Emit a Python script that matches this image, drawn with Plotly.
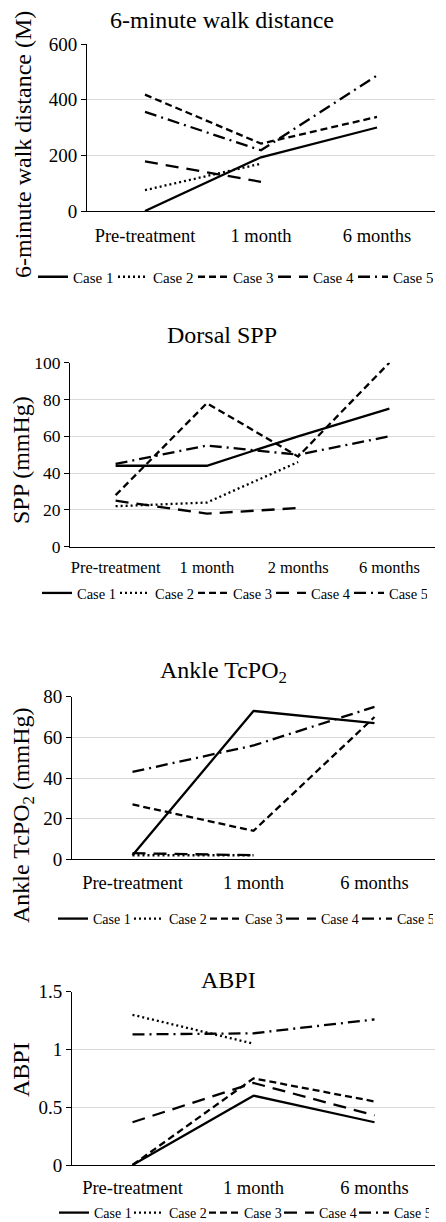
import plotly.graph_objects as go

# ---------------- data ----------------
cats_3 = ["Pre-treatment", "1 month", "6 months"]
cats_4 = ["Pre-treatment", "1 month", "2 months", "6 months"]
case_names = ["Case 1", "Case 2", "Case 3", "Case 4", "Case 5"]

walk_case1 = [0, 193, 300]
walk_case2 = [75, 170, None]
walk_case3 = [418, 242, 338]
walk_case4 = [178, 105, None]
walk_case5 = [356, 218, 487]

spp_case1 = [44, 44, 60, 75]
spp_case2 = [22, 24, 46, None]
spp_case3 = [28, 78, 49, 100]
spp_case4 = [25, 18, 21, None]
spp_case5 = [45, 55, 50, 60]

tcpo2_case1 = [2, 73, 67]
tcpo2_case2 = [2, 2, None]
tcpo2_case3 = [27, 14, 70]
tcpo2_case4 = [3, 2, None]
tcpo2_case5 = [43, 56, 75]

abpi_case1 = [0, 0.60, 0.37]
abpi_case2 = [1.30, 1.05, None]
abpi_case3 = [0, 0.75, 0.55]
abpi_case4 = [0.37, 0.71, 0.43]
abpi_case5 = [1.13, 1.14, 1.26]

walk_ticks = [0, 200, 400, 600]
spp_ticks = [0, 20, 40, 60, 80, 100]
tcpo2_ticks = [0, 20, 40, 60, 80]
abpi_ticks = [0, 0.5, 1, 1.5]
abpi_ticktext = ["0", "0.5", "1", "1.5"]

# ---------------- styling ----------------
OFF = 8                      # page body margin
W, H = 446 - OFF, 1222 - OFF
FONT = "Liberation Serif"
dashes = ["solid", "2px,3px", "7px,4px", "13px,8px", "12px,5px,2px,5px"]


def px(x):
    return (x - OFF) / W


def py(y):
    return 1 - (y - OFF) / H


panels = [
    dict(cats=cats_3, series=[walk_case1, walk_case2, walk_case3, walk_case4, walk_case5],
         title="6-minute walk distance", ytitle="6-minute walk distance (M)",
         xdom=(87, 435), ydom=(44, 211), yrange=[0, 600], ticks=walk_ticks, ticktext=None,
         tfs=19, xfs=18.5, title_xy=(222, 20), ytitle_xy=(23, 145), legend_y=277,
         legend_x=33, standoff=8, lfs=15, lew=35),
    dict(cats=cats_4, series=[spp_case1, spp_case2, spp_case3, spp_case4, spp_case5],
         title="Dorsal SPP", ytitle="SPP (mmHg)",
         xdom=(70, 435), ydom=(362.7, 546.7), yrange=[0, 100], ticks=spp_ticks, ticktext=None,
         tfs=17.5, xfs=16.5, title_xy=(222, 335), ytitle_xy=(21, 460), legend_y=593,
         legend_x=37, standoff=5, lfs=14.5, lew=33),
    dict(cats=cats_3, series=[tcpo2_case1, tcpo2_case2, tcpo2_case3, tcpo2_case4, tcpo2_case5],
         title="Ankle TcPO<sub>2</sub>", ytitle="Ankle TcPO<sub>2</sub> (mmHg)",
         xdom=(72, 435), ydom=(696.7, 859.3), yrange=[0, 80], ticks=tcpo2_ticks, ticktext=None,
         tfs=19, xfs=18.5, title_xy=(223, 672), ytitle_xy=(23, 815), legend_y=919,
         legend_x=53, standoff=6, lfs=14, lew=31),
    dict(cats=cats_3, series=[abpi_case1, abpi_case2, abpi_case3, abpi_case4, abpi_case5],
         title="ABPI", ytitle="ABPI",
         xdom=(72, 435), ydom=(991.7, 1165), yrange=[0, 1.5], ticks=abpi_ticks, ticktext=abpi_ticktext,
         tfs=19, xfs=18.5, title_xy=(228, 980), ytitle_xy=(21, 1070), legend_y=1213,
         legend_x=54, standoff=6, lfs=14, lew=30),
]

fig = go.Figure()
layout = dict(
    width=W, height=H, margin=dict(l=0, r=0, t=0, b=0, autoexpand=False),
    paper_bgcolor="white", plot_bgcolor="white",
    font=dict(family=FONT, color="black"),
    showlegend=True,
)
annotations = []

for i, p in enumerate(panels, start=1):
    sfx = "" if i == 1 else str(i)
    xa, ya = "x" + sfx, "y" + sfx
    leg = "legend" + sfx
    for name, vals, dash in zip(case_names, p["series"], dashes):
        fig.add_trace(go.Scatter(
            x=p["cats"], y=vals, name=name, mode="lines",
            line=dict(color="black", width=2.3, dash=dash),
            xaxis=xa, yaxis=ya, legend=leg, connectgaps=False,
            hoverinfo="skip",
        ))
    layout["xaxis" + sfx] = dict(
        domain=[px(p["xdom"][0]), px(p["xdom"][1])], anchor=ya,
        type="category", categoryorder="array", categoryarray=p["cats"],
        range=[-0.5, len(p["cats"]) - 0.5],
        showgrid=False, showline=True, linecolor="black", linewidth=1,
        ticks="", tickfont=dict(family=FONT, size=p["xfs"], color="black"),
        ticklabelstandoff=p["standoff"], zeroline=False, fixedrange=True,
        automargin=False,
    )
    yax = dict(
        domain=[py(p["ydom"][1]), py(p["ydom"][0])], anchor=xa,
        range=p["yrange"], tickmode="array", tickvals=p["ticks"],
        showgrid=True, gridcolor="#d9d9d9", gridwidth=1,
        showline=True, linecolor="black", linewidth=1,
        ticks="outside", ticklen=5, tickcolor="black", tickwidth=1,
        tickfont=dict(family=FONT, size=p["tfs"], color="black"),
        zeroline=False, fixedrange=True, automargin=False,
    )
    if p["ticktext"] is not None:
        yax["ticktext"] = p["ticktext"]
    layout["yaxis" + sfx] = yax
    layout[leg] = dict(
        orientation="h", x=px(p["legend_x"]), xanchor="left",
        y=py(p["legend_y"]), yanchor="middle",
        font=dict(family=FONT, size=p["lfs"], color="black"),
        entrywidth=p["lew"], entrywidthmode="pixels", itemwidth=30,
        bgcolor="rgba(0,0,0,0)", borderwidth=0, tracegroupgap=0,
    )
    annotations.append(dict(
        text=p["title"], x=px(p["title_xy"][0]), y=py(p["title_xy"][1]),
        xref="paper", yref="paper", xanchor="center", yanchor="middle",
        showarrow=False, font=dict(family=FONT, size=24, color="black"),
    ))
    annotations.append(dict(
        text=p["ytitle"], x=px(p["ytitle_xy"][0]), y=py(p["ytitle_xy"][1]),
        xref="paper", yref="paper", xanchor="center", yanchor="middle",
        textangle=-90, showarrow=False,
        font=dict(family=FONT, size=24, color="black"),
    ))

layout["annotations"] = annotations
fig.update_layout(**layout)
fig.write_html("out.html")
